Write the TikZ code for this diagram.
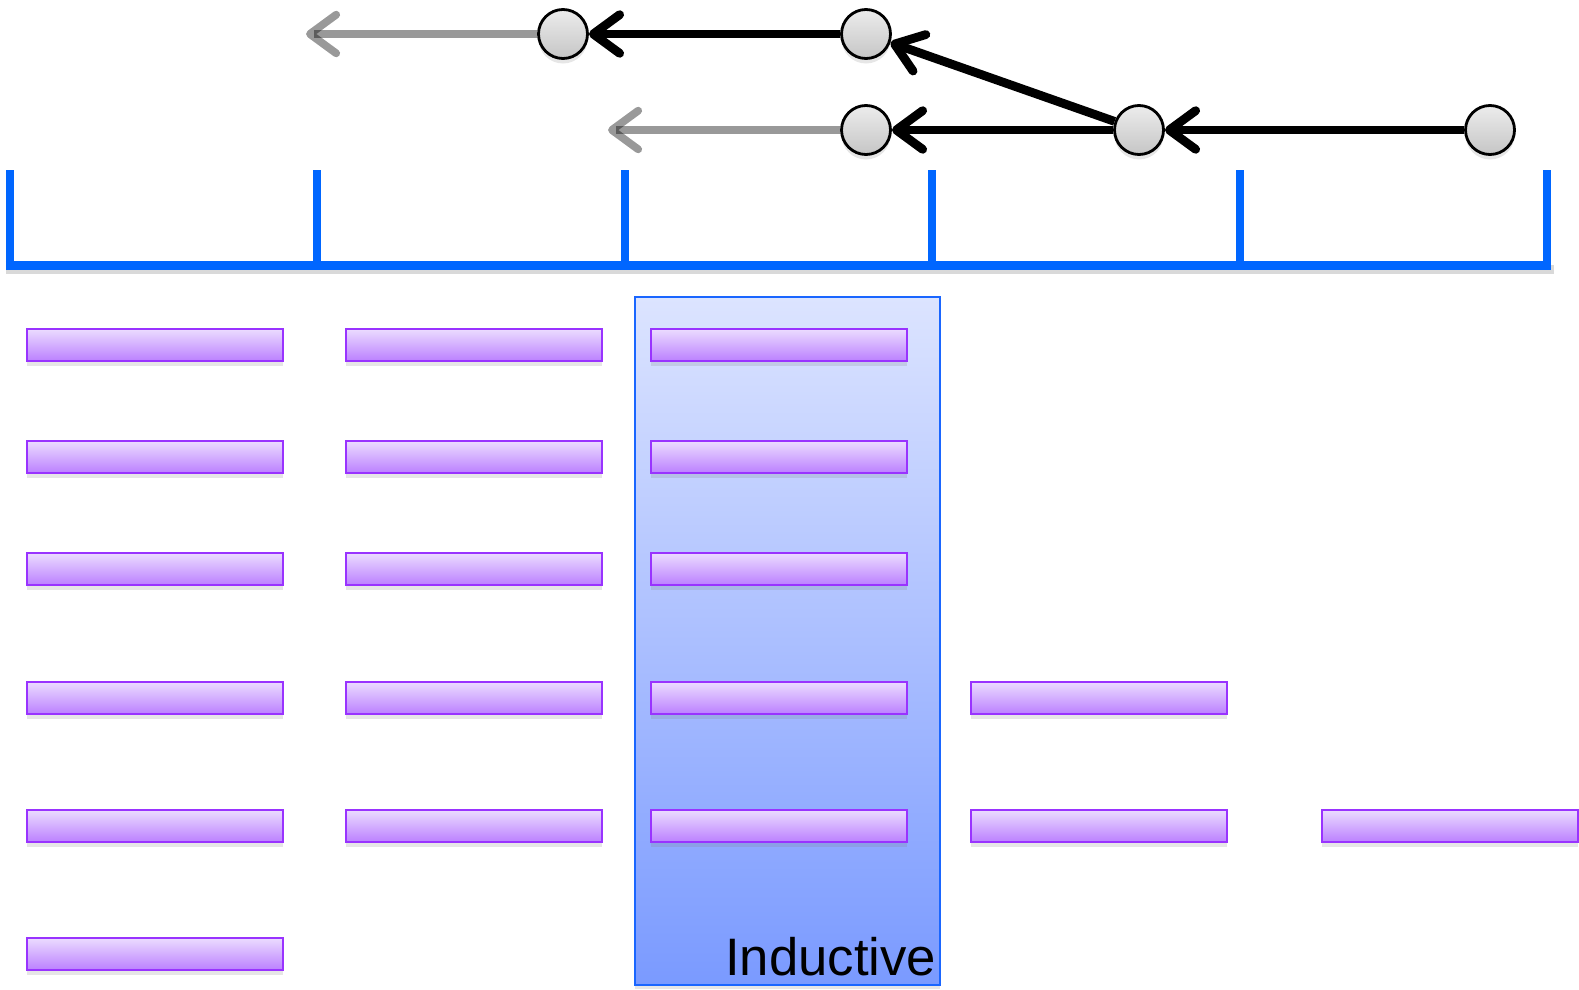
\documentclass[tikz,border=0pt]{standalone}
\usepackage{fontspec}
\setmainfont{Liberation Sans}
\usetikzlibrary{arrows.meta,positioning,shadows}
\definecolor{axisblue}{HTML}{0066FF}
\definecolor{barline}{HTML}{9933FF}
\definecolor{bartop}{HTML}{EBDCFF}
\definecolor{barbot}{HTML}{BB80FF}
\definecolor{boxtop}{HTML}{DCE4FF}
\definecolor{boxbot}{HTML}{7A9AFF}
\definecolor{boxline}{HTML}{1A66FF}

\begin{document}
\begin{tikzpicture}[
  bar/.style={draw=barline, line width=0.7pt, top color=bartop, bottom color=barbot,
    minimum width=2.56cm, minimum height=0.32cm, inner sep=0pt,
    drop shadow={shadow xshift=0pt, shadow yshift=-0.05cm, opacity=0.2}},
  state/.style={circle, draw=black, line width=0.8pt, top color=gray!15, bottom color=gray!45,
    minimum size=0.49cm, inner sep=0pt,
    drop shadow={shadow xshift=0pt, shadow yshift=-0.05cm, opacity=0.2}},
  link/.style={line width=2.5pt, -{Straight Barb[length=7.5pt,width=11pt,round]}},
  old/.style={link, line width=2.2pt, draw opacity=0.4},
  tick/.style={axisblue, line width=2.3pt}
]
\useasboundingbox (0,0) rectangle (15.79,9.89);

\draw[tick, black, opacity=0.15] (0.06,7.195) -- (15.54,7.195);
\draw[tick] (0.06,7.235) -- (15.51,7.235);
\foreach \i in {0,...,5}
  \draw[tick] ({0.10+3.074*\i},8.19) -- ({0.10+3.074*\i},7.195);

\node[draw=boxline, line width=0.7pt, top color=boxtop, bottom color=boxbot,
  minimum width=3.05cm, minimum height=6.88cm, inner sep=0pt, anchor=south west,
  drop shadow={shadow xshift=0pt, shadow yshift=-0.04cm, opacity=0.2}] (ind) at (6.34,0.03) {};
\node[anchor=base east, inner sep=0pt, font=\fontsize{15}{18}\selectfont] (indlabel) at (9.37,0.14) {Inductive};

\foreach \x [count=\c] in {1.55,4.74,7.79}
  \foreach \y [count=\r] in {6.44,5.32,4.20,2.91,1.63}
    \node[bar] (bar\c\r) at (\x,\y) {};
\node[bar] (bar16) at (1.55,0.35) {};
\node[bar] (bar44) at (10.99,2.91) {};
\node[bar] (bar45) at (10.99,1.63) {};
\node[bar] (bar55) at (14.50,1.63) {};

\node[state] (a1) at (5.63,9.55) {};
\node[state] (a2) at (8.66,9.55) {};
\node[state] (b1) at (8.66,8.59) {};
\node[state] (b2) at (11.39,8.59) {};
\node[state] (b3) at (14.90,8.59) {};
\coordinate (a0) at (3.06,9.55);
\coordinate (b0) at (6.08,8.59);

\draw[old] (a1) -- (a0);
\draw[old] (b1) -- (b0);
\draw[link] (a2) -- (a1);
\draw[link] (b2) -- (a2);
\draw[link] (b2) -- (b1);
\draw[link] (b3) -- (b2);
\end{tikzpicture}
\end{document}
